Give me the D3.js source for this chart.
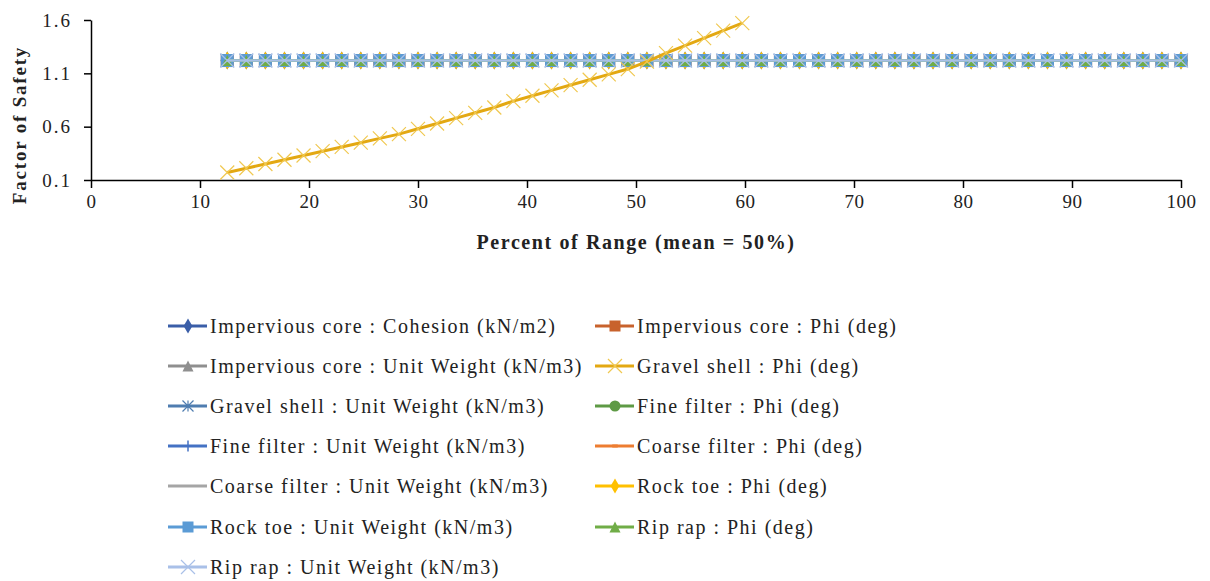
<!DOCTYPE html>
<html>
<head>
<meta charset="utf-8">
<script src="https://cdn.jsdelivr.net/npm/d3@7"></script>
<style>
  body { margin: 0; background: #fff; }
  svg { display: block; font-family: "Liberation Serif", "Times New Roman", serif; }
</style>
</head>
<body>
<svg id="chart" width="1210" height="581"></svg>
<script>
// percent of range, shared sample positions
var pctX = [12.5, 14.25, 16, 17.75, 19.5, 21.25, 23, 24.75, 26.5, 28.25,
  30, 31.75, 33.5, 35.25, 37, 38.75, 40.5, 42.25, 44, 45.75,
  47.5, 49.25, 51, 52.75, 54.5, 56.25, 58, 59.75, 61.5, 63.25,
  65, 66.75, 68.5, 70.25, 72, 73.75, 75.5, 77.25, 79, 80.75,
  82.5, 84.25, 86, 87.75, 89.5, 91.25, 93, 94.75, 96.5, 98.25, 100];

// factor of safety for the insensitive parameters (all read as flat)
var flatFS = [1.22, 1.22, 1.22, 1.22, 1.22, 1.22, 1.22, 1.22, 1.22, 1.22,
  1.22, 1.22, 1.22, 1.22, 1.22, 1.22, 1.22, 1.22, 1.22, 1.22,
  1.22, 1.22, 1.22, 1.22, 1.22, 1.22, 1.22, 1.22, 1.22, 1.22,
  1.22, 1.22, 1.22, 1.22, 1.22, 1.22, 1.22, 1.22, 1.22, 1.22,
  1.22, 1.22, 1.22, 1.22, 1.22, 1.22, 1.22, 1.22, 1.22, 1.22, 1.22];

// gravel shell phi, the one sensitive parameter
var gravelPhiFS = [0.17, 0.21, 0.25, 0.29, 0.33, 0.37, 0.41, 0.45, 0.49, 0.53,
  0.58, 0.63, 0.68, 0.73, 0.78, 0.84, 0.89, 0.94, 0.99, 1.04,
  1.09, 1.14, 1.21, 1.29, 1.36, 1.43, 1.50, 1.57];

var seriesNames = [
  "Impervious core : Cohesion (kN/m2)",
  "Impervious core : Phi (deg)",
  "Impervious core : Unit Weight (kN/m3)",
  "Gravel shell : Phi (deg)",
  "Gravel shell : Unit Weight (kN/m3)",
  "Fine filter : Phi (deg)",
  "Fine filter : Unit Weight (kN/m3)",
  "Coarse filter : Phi (deg)",
  "Coarse filter : Unit Weight (kN/m3)",
  "Rock toe : Phi (deg)",
  "Rock toe : Unit Weight (kN/m3)",
  "Rip rap : Phi (deg)",
  "Rip rap : Unit Weight (kN/m3)"
];
var seriesValues = [flatFS, flatFS, flatFS, gravelPhiFS, flatFS, flatFS, flatFS,
  flatFS, flatFS, flatFS, flatFS, flatFS, flatFS];

var xTicks = [0, 10, 20, 30, 40, 50, 60, 70, 80, 90, 100];
var yTicks = [0.1, 0.6, 1.1, 1.6];

// styling per series
var lineColors = ["#3a5ea8", "#c8622c", "#8f8f8f", "#e3a812", "#4f7db0", "#5e9a45",
  "#4472c4", "#ed7d31", "#a5a5a5", "#ffc000", "#5b9bd5", "#70ad47", "#a9c0e8"];
var markerColors = ["#3a5ea8", "#c8622c", "#8f8f8f", "#f0c850", "#4f7db0", "#5e9a45",
  "#4472c4", "#ed7d31", "#a5a5a5", "#ffc000", "#5b9bd5", "#70ad47", "#a9c0e8"];
var markerTypes = ["diamond", "square", "triangle", "x", "star", "circle",
  "plus", "dash", "none", "diamond", "square", "triangle", "x"];

var svg = d3.select("#chart");
var margin = {left: 91, right: 29, top: 20};
var plotH = 160;

var x = d3.scaleLinear().domain([0, 100]).range([margin.left, 1210 - margin.right]);
var y = d3.scaleLinear().domain([0.1, 1.6]).range([margin.top + plotH, margin.top]);

// axes
var xAxis = svg.append("g")
  .attr("transform", "translate(0," + y(0.1) + ")")
  .call(d3.axisBottom(x).tickValues(xTicks).tickSize(8).tickPadding(7).tickSizeOuter(0));
var yAxis = svg.append("g")
  .attr("transform", "translate(" + x(0) + ",0)")
  .call(d3.axisLeft(y).tickValues(yTicks).tickSize(7).tickPadding(12).tickSizeOuter(0)
    .tickFormat(d3.format(".1f")));

[xAxis, yAxis].forEach(function(a) {
  a.select(".domain").attr("stroke", "#000").attr("stroke-width", 1.5);
  a.selectAll(".tick line").attr("stroke", "#000").attr("stroke-width", 1.5);
  a.selectAll("text").attr("font-family", "Liberation Serif").attr("font-size", 19)
    .attr("fill", "#222");
});
yAxis.selectAll("text").attr("letter-spacing", "2px");
xAxis.selectAll("text").attr("letter-spacing", "0.5px");

svg.append("text")
  .attr("x", 636)
  .attr("y", 249)
  .attr("text-anchor", "middle")
  .attr("font-weight", "bold")
  .attr("font-size", 20)
  .attr("letter-spacing", "1.6px")
  .attr("fill", "#222")
  .text("Percent of Range (mean = 50%)");

svg.append("text")
  .attr("transform", "translate(26,125) rotate(-90)")
  .attr("text-anchor", "middle")
  .attr("font-weight", "bold")
  .attr("font-size", 19)
  .attr("letter-spacing", "1.8px")
  .attr("fill", "#222")
  .text("Factor of Safety");

// marker drawing
function drawMarker(g, type, color, size) {
  var s = size;
  switch (type) {
    case "diamond":
      g.append("path").attr("d", d3.symbol(d3.symbolDiamond, s * s * 0.55)())
        .attr("fill", color);
      break;
    case "square":
      g.append("rect").attr("x", -s / 2).attr("y", -s / 2).attr("width", s).attr("height", s)
        .attr("fill", color);
      break;
    case "triangle":
      g.append("path").attr("d", "M0," + (-s / 2) + "L" + (s / 2) + "," + (s / 2) + "L" + (-s / 2) + "," + (s / 2) + "Z")
        .attr("fill", color);
      break;
    case "x":
      g.append("path").attr("d", "M" + (-s / 2) + "," + (-s / 2) + "L" + (s / 2) + "," + (s / 2) +
        "M" + (s / 2) + "," + (-s / 2) + "L" + (-s / 2) + "," + (s / 2))
        .attr("stroke", color).attr("stroke-width", 1.2).attr("fill", "none");
      break;
    case "star":
      g.append("path").attr("d", "M" + (-s / 2) + "," + (-s / 2) + "L" + (s / 2) + "," + (s / 2) +
        "M" + (s / 2) + "," + (-s / 2) + "L" + (-s / 2) + "," + (s / 2) + "M0," + (-s / 2) + "L0," + (s / 2))
        .attr("stroke", color).attr("stroke-width", 1.2).attr("fill", "none");
      break;
    case "circle":
      g.append("circle").attr("r", s / 2).attr("fill", color);
      break;
    case "plus":
      g.append("path").attr("d", "M" + (-s / 2) + ",0L" + (s / 2) + ",0M0," + (-s / 2) + "L0," + (s / 2))
        .attr("stroke", color).attr("stroke-width", 1.5).attr("fill", "none");
      break;
    case "dash":
      g.append("rect").attr("x", -s / 4).attr("y", -1.5).attr("width", s / 2).attr("height", 3)
        .attr("fill", color);
      break;
  }
}

var line = d3.line()
  .x(function(d, i) { return x(pctX[i]); })
  .y(function(d) { return y(d); });

// draw the flat series first, gravel shell phi on top of them
var drawOrder = [0, 1, 2, 4, 5, 6, 7, 8, 9, 10, 11, 12, 3];
var plot = svg.append("g");
drawOrder.forEach(function(k) {
  var vals = seriesValues[k];
  var g = plot.append("g");
  g.append("path")
    .datum(vals)
    .attr("d", line)
    .attr("fill", "none")
    .attr("stroke", lineColors[k])
    .attr("stroke-width", k === 3 ? 3 : 2.5);
  var msize = markerTypes[k] === "x" ? 14 : (markerTypes[k] === "triangle" ? 11 : 13);
  g.selectAll("g.m").data(vals).enter().append("g")
    .attr("class", "m")
    .attr("transform", function(d, i) { return "translate(" + x(pctX[i]) + "," + y(d) + ")"; })
    .each(function() { drawMarker(d3.select(this), markerTypes[k], markerColors[k], msize); });
});

// legend, two columns
var legCols = [168, 595];
var legRows = [326, 366, 406, 446, 486, 527, 567];
var legend = svg.append("g");
seriesNames.forEach(function(name, k) {
  var cx = legCols[k % 2], cy = legRows[Math.floor(k / 2)];
  var g = legend.append("g").attr("transform", "translate(" + cx + "," + cy + ")");
  g.append("line").attr("x1", 0).attr("x2", 39).attr("y1", 0).attr("y2", 0)
    .attr("stroke", lineColors[k]).attr("stroke-width", 3);
  var m = g.append("g").attr("transform", "translate(20,0)");
  drawMarker(m, markerTypes[k], markerColors[k], markerTypes[k] === "x" ? 14 : 11);
  g.append("text").attr("x", 42).attr("y", 0).attr("dy", "0.35em")
    .attr("font-size", 20).attr("fill", "#222")
    .attr("letter-spacing", "1.5px")
    .text(name);
});
</script>
</body>
</html>
